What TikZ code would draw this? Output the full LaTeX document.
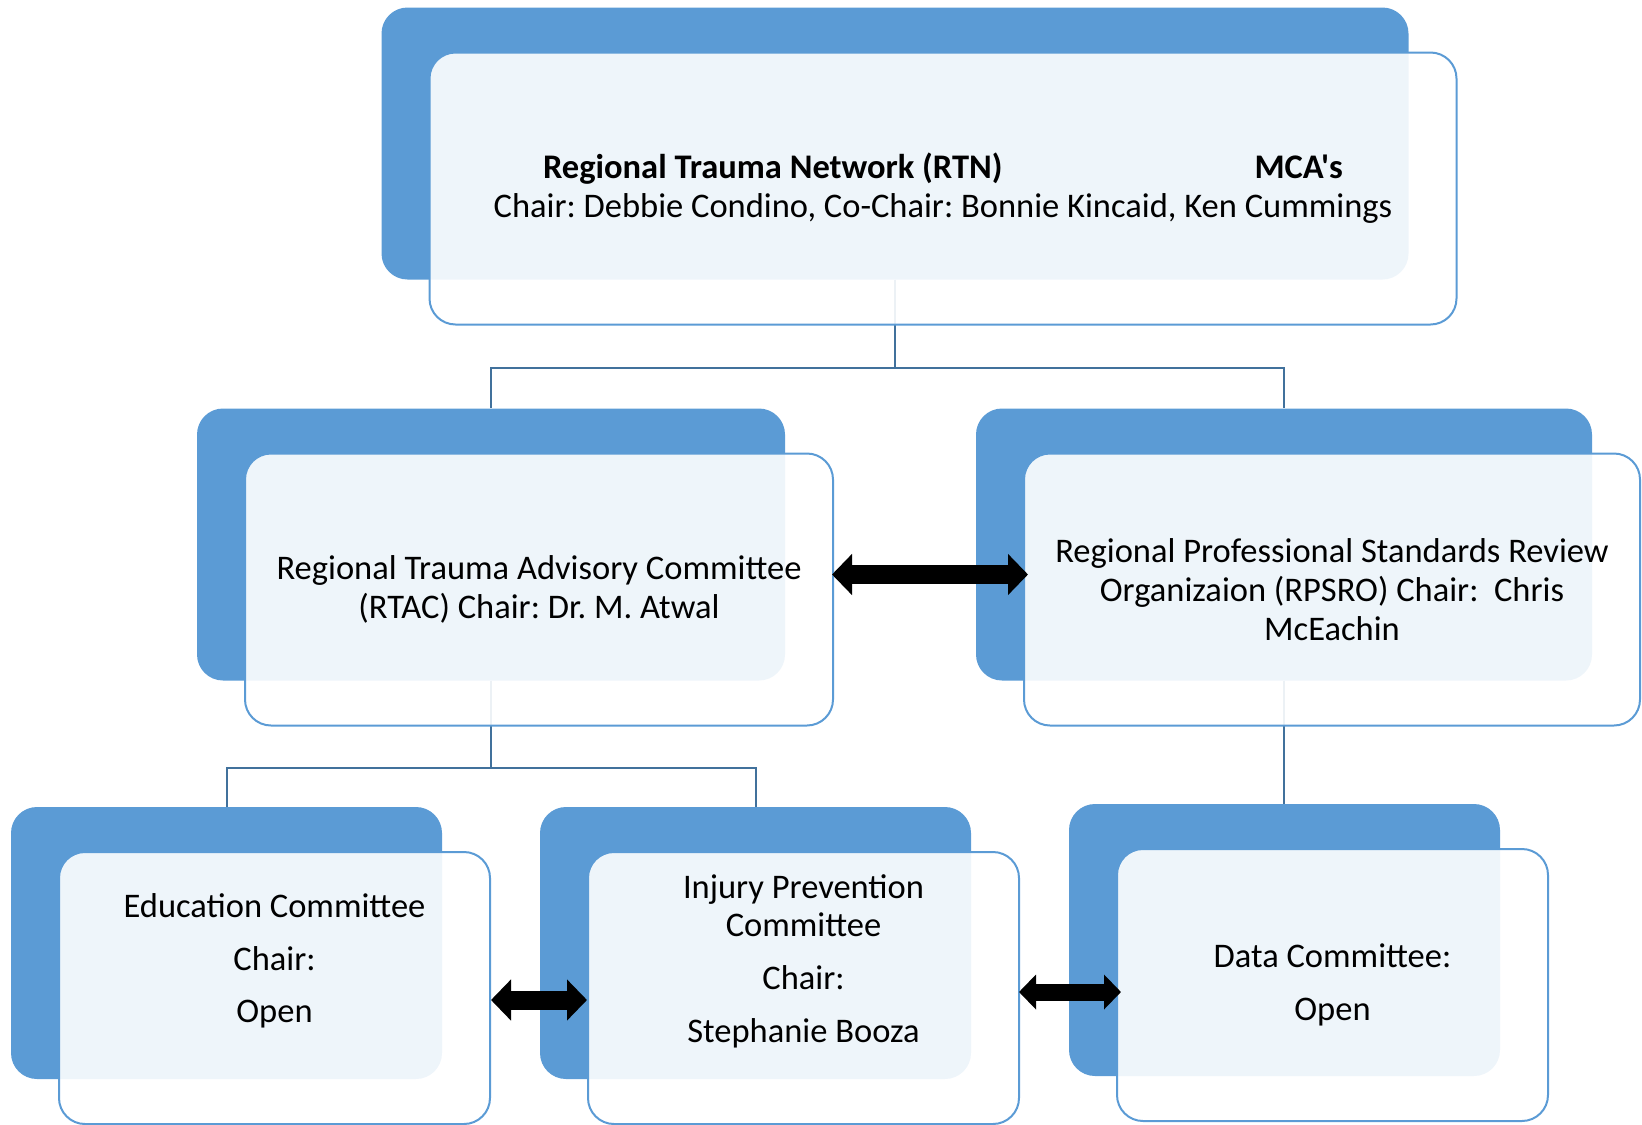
\documentclass[tikz,border=0pt]{standalone}
\usepackage{fontspec}
\setmainfont{Carlito}[Ligatures=TeXOff]
\frenchspacing
\usetikzlibrary{calc,arrows.meta}
\definecolor{boxblue}{HTML}{5B9BD5}
\definecolor{linkblue}{HTML}{41719C}
\tikzset {>=Stealth,
  backbox/.style={rectangle,rounded corners=26pt,fill=boxblue,minimum height=272pt,inner sep=0pt},
  frontbox/.style={rectangle,rounded corners=26pt,draw=boxblue,line width=2pt,fill=white,fill opacity=.9,minimum height=272pt,inner sep=0pt},
  txt/.style={align=center,font=\fontsize{34.5}{38.7}\selectfont},
  link/.style={draw=linkblue,line width=2pt},
  both/.style={line width=19pt,{Triangle[length=20pt,width=40pt]}-{Triangle[length=20pt,width=40pt]}},
  small both/.style={line width=17pt,{Triangle[length=17pt,width=34pt]}-{Triangle[length=17pt,width=34pt]}}}

\begin{document}
\begin{tikzpicture}[x=1pt,y=-1pt]
\useasboundingbox (0,0) rectangle (1642,1125);

% blue boxes behind
\foreach \n/\cx/\cy/\w in {rtn/943/188.5/1027,rtac/539/589.5/588,rpsro/1332/589.5/616,edu/274.5/988/431,inj/803.5/988/431,data/1332.5/985/431}
  \node[backbox,minimum width=\w pt] (\n0) at (\cx-48,\cy-45) {};

% tree lines
\draw[link] (rtn0.south) -- ++(0,88) coordinate (bus1);
\draw[link] (bus1) -| (rtac0.north);
\draw[link] (bus1) -| (rpsro0.north);
\draw[link] (rtac0.south) -- ++(0,87) coordinate (bus2);
\draw[link] (bus2) -| (edu0.north);
\draw[link] (bus2) -| (inj0.north);
\draw[link] (rpsro0.south) -- (rpsro0.south |- data0.north);

% light boxes in front
\foreach \n/\cx/\cy/\w in {rtn/943/188.5/1027,rtac/539/589.5/588,rpsro/1332/589.5/616,edu/274.5/988/431,inj/803.5/988/431,data/1332.5/985/431}
  \node[frontbox,minimum width=\w pt] (\n) at (\cx,\cy) {};

\node[txt] (rtn-t) at (rtn) {\textbf{Regional Trauma Network (RTN)}\hspace{252pt}\textbf{MCA's}\\
  Chair: Debbie Condino, Co-Chair: Bonnie Kincaid, Ken Cummings};
\node[txt] (rtac-t) at (rtac) {Regional Trauma Advisory Committee\\(RTAC) Chair: Dr. M. Atwal};
\node[txt] (rpsro-t) at (rpsro) {Regional Professional Standards Review\\Organizaion (RPSRO) Chair:~ Chris\\McEachin};
\node[txt,yshift=27pt] (edu-t) at (edu) {Education Committee\\[14pt]Chair:\\[14pt]Open};
\node[txt,yshift=27pt] (inj-t) at (inj) {Injury Prevention\\Committee\\[14pt]Chair:\\[14pt]Stephanie Booza};
\node[txt] (data-t) at (data) {Data Committee:\\[14pt]Open};

% double arrows
\draw[both] ($(rtac.east)+(-2,-15)$) -- ($(rpsro.west)+(5,-15)$);
\draw[both] ($(edu.east)+(0,12)$) -- ($(inj.west)+(0,12)$);
\draw[small both] ($(inj.east)+(-1,4)$) -- ($(data.west)+(5,7)$);
\end{tikzpicture}
\end{document}
